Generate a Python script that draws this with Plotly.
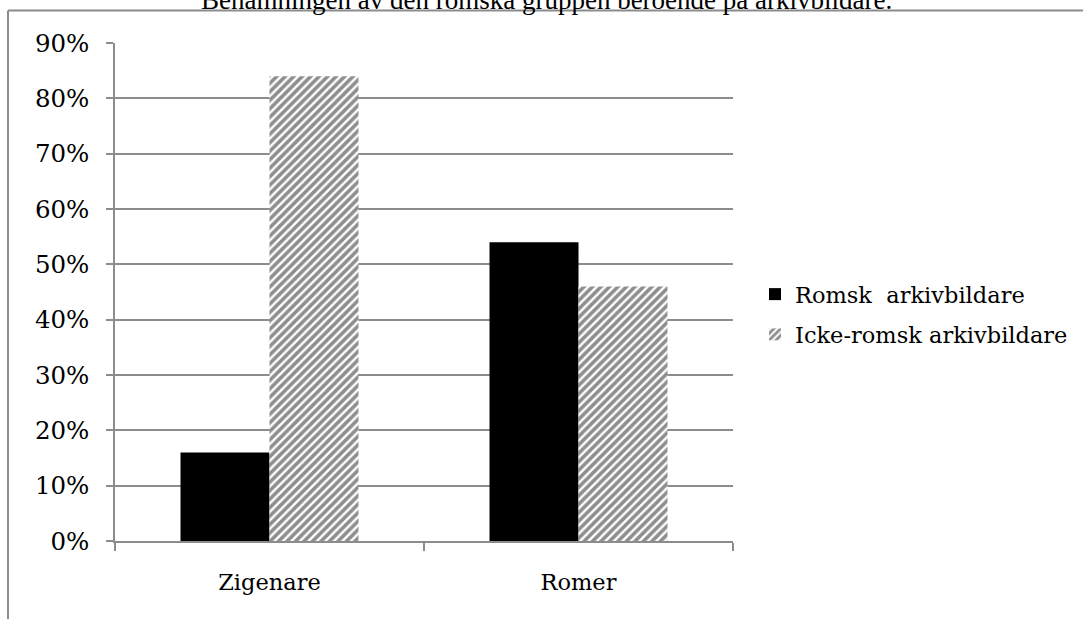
import plotly.graph_objects as go

categories = ["Zigenare", "Romer"]
romsk = [0.16, 0.54]
icke_romsk = [0.84, 0.46]
series_names = ["Romsk\u00a0 arkivbildare", "Icke-romsk arkivbildare"]
title_text = "Benämningen av den romska gruppen beroende på arkivbildare."

W, H = 1083, 619
L, R, T, B = 115, 733, 43, 541


def px2x(p):
    return (p - L) / (R - L)


def px2y(p):
    return (B - p) / (B - T)


FONT = "DejaVu Serif"
GRID = "#8c8c8c"

fig = go.Figure()
fig.add_trace(go.Bar(
    x=categories, y=romsk, name=series_names[0], legendgroup="a",
    marker=dict(color="black", line=dict(width=0)),
))
fig.add_trace(go.Bar(
    x=categories, y=icke_romsk, name=series_names[1], legendgroup="b",
    marker=dict(color="white", line=dict(width=0),
                pattern=dict(shape="/", fgcolor="#1e1e1e", bgcolor="white",
                             size=6, solidity=0.6, fillmode="overlay")),
))

fig.update_layout(
    width=W, height=H,
    margin=dict(l=L, r=W - R, t=T, b=H - B, autoexpand=False),
    paper_bgcolor="white", plot_bgcolor="white",
    barmode="group", bargap=0.424, bargroupgap=0,
    font=dict(family=FONT, size=22.5, color="black"),
    showlegend=True,
    legend=dict(x=px2x(755), y=px2y(314.5), xanchor="left", yanchor="middle",
                font=dict(family=FONT, size=22.5, color="black"),
                tracegroupgap=8, traceorder="grouped", bgcolor="rgba(0,0,0,0)"),
    xaxis=dict(showline=True, linecolor=GRID, linewidth=1.5, showgrid=False,
               ticks="outside", tickson="boundaries", ticklen=8, tickcolor=GRID,
               tickwidth=1.5, ticklabelstandoff=20, range=[-0.5, 1.5]),
    yaxis=dict(range=[0, 0.9], dtick=0.1, tickformat=".0%", showline=True,
               linecolor=GRID, linewidth=1.5, showgrid=True, gridcolor=GRID,
               gridwidth=1.5, ticks="outside", ticklen=7, tickcolor=GRID,
               tickwidth=1.5, ticklabelstandoff=12, zeroline=False,
               tickfont=dict(family=FONT, size=24.5, color="black")),
    shapes=[
        dict(type="line", xref="paper", yref="paper", x0=px2x(8), x1=px2x(W + 5),
             y0=px2y(10.5), y1=px2y(10.5), line=dict(color=GRID, width=2)),
        dict(type="line", xref="paper", yref="paper", x0=px2x(8), x1=px2x(8),
             y0=px2y(10.5), y1=px2y(H + 5), line=dict(color=GRID, width=2)),
    ],
    annotations=[
        dict(text=title_text, xref="paper", yref="paper", x=px2x(546), y=px2y(17),
             xanchor="center", yanchor="bottom", showarrow=False,
             font=dict(family="Liberation Serif", size=27, color="black")),
    ],
)

fig.write_html("out.html", config={"displayModeBar": False},
               post_script="document.body.style.margin='0';document.body.style.overflow='hidden';")
